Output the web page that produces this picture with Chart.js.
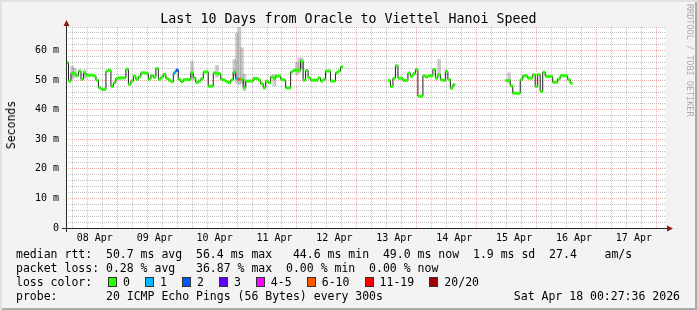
<!DOCTYPE html>
<html>
<head>
<meta charset="utf-8">
<script src="https://cdn.jsdelivr.net/npm/chart.js@4.4.1/dist/chart.umd.min.js"></script>
<style>
  html, body { margin: 0; padding: 0; }
  body { width: 697px; height: 310px; overflow: hidden; font-family: "DejaVu Sans Mono", monospace; }
  #frame {
    position: relative; width: 697px; height: 310px; background: #f3f3f3;
    box-shadow: inset 2px 2px 0 #e2e2e2, inset -2px -2px 0 #aaaaaa;
  }
  #chart-box { position: absolute; left: 0; top: 0; width: 697px; height: 310px; }
  .txt { position: absolute; white-space: pre; color: #000; font-size: 11.5px; line-height: 14px; }
  #title { left: 0; top: 12px; width: 697px; text-align: center; font-size: 13.3px; }
  #ylabel { left: 11px; top: 125px; transform: translate(-50%, -50%) rotate(-90deg); }
  #mark { left: 683px; top: 4px; writing-mode: vertical-rl; font-size: 8.5px; color: #acacac; }
  .box { position: absolute; width: 7px; height: 8px; border: 1px solid #333; }
</style>
</head>
<body>
<div id="frame">
  <div id="chart-box"><canvas id="rttChart"></canvas></div>
  <div class="txt" id="title">Last 10 Days from Oracle to Viettel Hanoi Speed</div>
  <div class="txt" id="ylabel">Seconds</div>
  <div class="txt" id="mark">RRDTOOL / TOBI OETIKER</div>
  <div class="txt" style="left:16px;top:247px">median rtt:  50.7 ms avg  56.4 ms max   44.6 ms min  49.0 ms now  1.9 ms sd  27.4    am/s</div>
  <div class="txt" style="left:16px;top:261px">packet loss: 0.28 % avg   36.87 % max  0.00 % min  0.00 % now</div>
  <div class="txt" style="left:16px;top:275px">loss color:</div>
  <div id="loss-legend"></div>
  <div class="txt" style="left:16px;top:289px">probe:       20 ICMP Echo Pings (56 Bytes) every 300s</div>
  <div class="txt" style="right:17px;top:289px">Sat Apr 18 00:27:36 2026</div>
</div>
<script>
// x axis is hours since the graph start (Apr 8 00:27:36)
const startMinute = 27.6 / 60;
const hoursShown = 240;
const dayLabels = ["08 Apr", "09 Apr", "10 Apr", "11 Apr", "12 Apr", "13 Apr", "14 Apr", "15 Apr", "16 Apr", "17 Apr"];
const yMax = 68;

// hourly median rtt in ms, three stretches with gaps between them
const seg1Start = 0;
const seg1Median = [
  56.0, 49.7, 52.3, 52.3, 51.5, 53.1, 50.3, 52.5, 51.7, 51.7, 51.7, 51.4, 50.0, 47.5, 46.9, 46.9,
  53.1, 53.4, 47.9, 49.2, 50.6, 50.8, 50.8, 50.8, 53.7, 48.6, 49.7, 51.4, 50.3, 51.2, 52.5, 52.5,
  52.3, 50.3, 51.6, 51.0, 54.0, 50.3, 51.1, 52.0, 50.6, 50.0, 49.5, 52.5, 53.4, 50.3, 49.5, 50.2,
  50.2, 50.2, 52.5, 50.8, 49.2, 49.7, 50.5, 52.8, 52.8, 48.0, 48.0, 52.5, 52.2, 52.2, 50.3, 50.0,
  49.5, 49.2, 50.1, 52.8, 50.5, 50.3, 50.3, 47.5, 49.7, 49.7, 49.7, 50.6, 50.6, 50.0, 48.8, 47.4,
  49.7, 49.2, 51.1, 50.6, 51.4, 51.4, 50.3, 50.0, 47.4, 47.4, 52.8, 53.4, 53.4, 53.4, 56.4, 50.0,
  53.3, 50.8, 50.0, 50.0, 50.0, 50.8, 49.7, 50.3, 53.1, 53.1, 49.7, 49.7, 52.5, 53.1, 54.5
];
const seg2Start = 129;
const seg2Median = [
  49.9, 47.9, 50.7, 54.9, 50.7, 50.7, 49.9, 49.9, 52.4, 51.3, 52.2, 53.6, 44.6, 44.6,
  51.5, 51.1, 51.5, 51.5, 53.6, 50.7, 51.9, 50.2, 49.9, 53.0, 50.2, 47.3, 48.5
];
const seg3Start = 176;
const seg3Median = [
  49.9, 49.9, 48.1, 45.6, 45.6, 45.6, 50.2, 51.5, 51.5, 50.7, 50.7, 51.9, 47.9, 51.9,
  46.2, 52.7, 51.3, 51.3, 51.3, 49.3, 49.3, 50.4, 51.5, 51.5, 51.5, 50.2, 49.0
];

// hours where some pings were lost, and how many
const lossHours = [43, 44, 68, 69];
const lossPings = [1, 2, 1, 7];

// visible smoke (spread of the 20 pings) around the median
const smokeHours = [2, 3, 7, 50, 60, 67, 68, 69, 70, 71, 83, 92, 93, 94, 149, 177];
const smokeLow = [50.5, 51.0, 50.5, 50.3, 51.0, 51.0, 49.0, 48.5, 49.0, 46.5, 48.0, 52.0, 52.5, 54.0, 52.0, 49.0];
const smokeHigh = [54.8, 54.0, 53.5, 56.5, 55.0, 57.0, 66.0, 68.0, 61.0, 52.0, 52.0, 56.0, 57.5, 57.5, 57.0, 52.5];

const lossNames = ["0", "1", "2", "3", "4-5", "6-10", "11-19", "20/20"];
const lossColors = ["#26ff00", "#00b8ff", "#0059ff", "#5e00ff", "#ff00ff", "#ff5500", "#ff0000", "#a00000"];

function lossColor(pings) {
  if (pings === 0) return lossColors[0];
  if (pings <= 3) return lossColors[pings];
  if (pings <= 5) return lossColors[4];
  if (pings <= 10) return lossColors[5];
  if (pings <= 19) return lossColors[6];
  return lossColors[7];
}

// loss colour legend row
const legendRow = document.getElementById("loss-legend");
let lx = 108;
lossNames.forEach((name, i) => {
  const box = document.createElement("div");
  box.className = "box";
  box.style.left = lx + "px";
  box.style.top = "277px";
  box.style.background = lossColors[i];
  legendRow.appendChild(box);
  const label = document.createElement("div");
  label.className = "txt";
  label.style.left = (lx + 15) + "px";
  label.style.top = "275px";
  label.textContent = name;
  legendRow.appendChild(label);
  lx += 15 + name.length * 6.96 + 15;
});

const medianPoints = [];
[[seg1Start, seg1Median], [seg2Start, seg2Median], [seg3Start, seg3Median]].forEach(([start, values]) => {
  values.forEach((v, i) => medianPoints.push({ x: start + i + 0.5, y: v }));
  medianPoints.push({ x: start + values.length + 0.5, y: null });
});

const smokeBars = smokeHours.map((h, i) => ({ x: h + 0.5, y: [smokeLow[i], smokeHigh[i]] }));

const xTicks = [];
for (let k = 1; k * 6 - startMinute < hoursShown; k++) xTicks.push(k * 6 - startMinute);
const yTicks = [];
for (let v = 0; v <= yMax; v += 2) yTicks.push(v);

const gridGray = "rgba(150,150,150,0.55)";
const gridRed = "rgba(235,120,120,0.6)";

const frameAndAxes = {
  id: "frameAndAxes",
  beforeDraw(chart) {
    const { ctx, chartArea: a } = chart;
    ctx.save();
    ctx.fillStyle = "#ffffff";
    ctx.fillRect(a.left, a.top, a.right - a.left, a.bottom - a.top);
    ctx.restore();
  },
  afterDatasetsDraw(chart) {
    const { ctx, chartArea: a } = chart;
    const x0 = Math.round(a.left) + 0.5;
    const y0 = Math.round(a.bottom) + 0.5;
    ctx.save();
    ctx.strokeStyle = "#2a2a2a";
    ctx.lineWidth = 1;
    ctx.beginPath();
    ctx.moveTo(x0, a.bottom + 4);
    ctx.lineTo(x0, a.top - 4);
    ctx.moveTo(a.left - 4, y0);
    ctx.lineTo(a.right + 3, y0);
    ctx.stroke();
    ctx.fillStyle = "#8b1a1a";
    ctx.beginPath();
    ctx.moveTo(x0, a.top - 7);
    ctx.lineTo(x0 - 3, a.top - 1);
    ctx.lineTo(x0 + 3, a.top - 1);
    ctx.fill();
    ctx.beginPath();
    ctx.moveTo(a.right + 8, y0);
    ctx.lineTo(a.right + 2, y0 - 3);
    ctx.lineTo(a.right + 2, y0 + 3);
    ctx.fill();
    ctx.restore();
  }
};

Chart.defaults.font.family = "'DejaVu Sans Mono', monospace";
Chart.defaults.color = "#000";

new Chart(document.getElementById("rttChart"), {
  type: "line",
  data: {
    datasets: [
      {
        type: "bar",
        data: smokeBars,
        backgroundColor: "rgba(140,140,140,0.45)",
        barThickness: 3,
        grouped: false,
        order: 3
      },
      {
        data: medianPoints,
        stepped: "middle",
        borderColor: "#202020",
        borderWidth: 1,
        pointRadius: 0,
        spanGaps: false,
        order: 2
      },
      {
        data: medianPoints,
        showLine: false,
        pointStyle: "line",
        pointRadius: 1.3,
        pointHoverRadius: 1.3,
        pointBorderWidth: 3,
        pointBorderColor: ctx => {
          const p = ctx.raw;
          if (!p) return lossColors[0];
          const idx = lossHours.indexOf(Math.floor(p.x));
          return lossColor(idx >= 0 ? lossPings[idx] : 0);
        },
        order: 1
      }
    ]
  },
  options: {
    responsive: true,
    maintainAspectRatio: false,
    animation: false,
    devicePixelRatio: 1,
    layout: { padding: { left: 0, right: 32, top: 27, bottom: 62 } },
    plugins: { legend: { display: false }, tooltip: { enabled: false } },
    scales: {
      x: {
        type: "linear",
        min: 0,
        max: hoursShown,
        offset: false,
        afterBuildTicks: scale => { scale.ticks = xTicks.map(v => ({ value: v })); },
        afterFit: scale => { scale.height = 20; },
        grid: {
          drawTicks: false,
          color: ctx => {
            if (!ctx.tick) return gridGray;
            const k = Math.round((ctx.tick.value + startMinute) / 6);
            return k % 4 === 0 ? gridRed : gridGray;
          }
        },
        border: { display: false, dash: [1, 1] },
        ticks: {
          autoSkip: false,
          maxRotation: 0,
          padding: 4,
          font: { size: 10 },
          callback: value => {
            const k = Math.round((value + startMinute) / 6);
            return k % 4 === 2 ? dayLabels[(k - 2) / 4] : "";
          }
        }
      },
      y: {
        min: 0,
        max: yMax,
        afterBuildTicks: scale => { scale.ticks = yTicks.map(v => ({ value: v })); },
        afterFit: scale => { scale.width = 66; },
        grid: {
          drawTicks: false,
          color: ctx => {
            if (!ctx.tick) return gridGray;
            const v = ctx.tick.value;
            if (v === 0) return "rgba(0,0,0,0)";
            return v % 10 === 0 ? gridRed : gridGray;
          }
        },
        border: { display: false, dash: [1, 1] },
        ticks: {
          autoSkip: false,
          padding: 7,
          font: { size: 10 },
          callback: v => (v % 10 === 0 ? (v === 0 ? "0" : v + " m") : "")
        }
      }
    }
  },
  plugins: [frameAndAxes]
});
</script>
</body>
</html>
